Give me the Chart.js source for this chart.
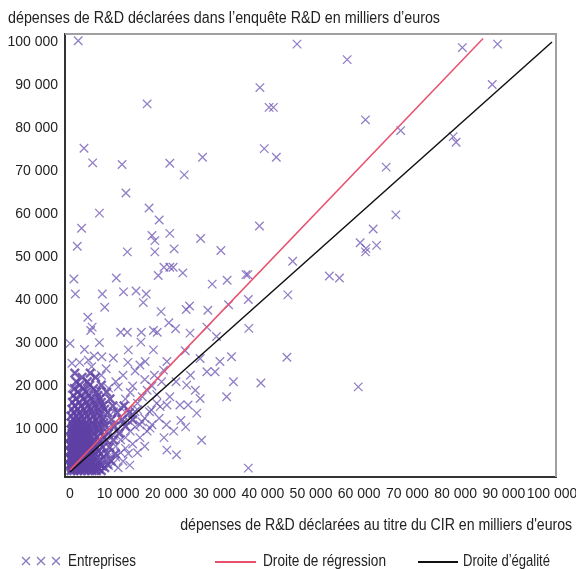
<!DOCTYPE html>
<html><head><meta charset="utf-8">
<script src="https://cdn.jsdelivr.net/npm/chart.js@4"></script>
<style>
body{margin:0;background:#fff}
#wrap{position:relative;width:576px;height:569px;font-family:'Liberation Sans',Arial,sans-serif;color:#222;font-size:16px}
#c{position:absolute;left:0;top:0}
.t{position:absolute;white-space:nowrap;line-height:16px}
.ln{position:absolute;height:1.5px}
</style></head><body>
<div id="wrap">
<canvas id="c" width="576" height="569"></canvas>
<div class="t fit" data-w="432" style="left:8px;top:10px;transform-origin:left center">dépenses de R&amp;D déclarées dans l’enquête R&amp;D en milliers d’euros</div>
<div class="t fit" data-w="392" style="right:4px;top:517px;transform-origin:right center">dépenses de R&amp;D déclarées au titre du CIR en milliers d'euros</div>
<svg style="position:absolute;left:20px;top:555px" width="44" height="12">
<g stroke="rgba(108,84,178,0.8)" stroke-width="1.3">
<path d="M2 2 L10 10 M10 2 L2 10"/><path d="M17 2 L25 10 M25 2 L17 10"/><path d="M32 2 L40 10 M40 2 L32 10"/>
</g></svg>
<div class="t fit" data-w="68" style="left:68px;top:553px;transform-origin:left center">Entreprises</div>
<div class="ln" style="left:215px;top:561px;width:41px;background:#e9506e"></div>
<div class="t fit" data-w="123" style="left:263px;top:553px;transform-origin:left center">Droite de régression</div>
<div class="ln" style="left:418px;top:561px;width:40px;background:#111"></div>
<div class="t fit" data-w="87" style="left:463px;top:553px;transform-origin:left center">Droite d’égalité</div>
</div>
<script>
// Values in milliers d'euros: [CIR declared, R&D survey declared]
const outliers = [
[1700,100300],[47100,99500],[81400,98700],[88700,99500],[57500,95900],[39400,89400],[41300,84800],[42200,84800],
[87600,90100],[16000,85600],[61300,81900],[68600,79400],[79500,78000],[80100,76700],[40300,75200],[42800,73200],
[2900,75300],[4700,71900],[10800,71500],[20700,71800],[23700,69100],[27500,73200],[65600,70900],[11600,64900],
[6100,60200],[16400,61400],[18500,58600],[67600,59800],[39300,57200],[2400,56700],[1500,52500],[17000,55000],
[17600,53800],[20700,55500],[27100,54300],[11900,51200],[17600,51200],[21600,51900],[31300,51500],[62900,56500],
[60200,53300],[61400,52000],[61300,51200],[63600,52700],[800,44900],[9600,45100],[19500,47600],[20700,47600],
[21400,47600],[18300,45700],[23400,46300],[46200,49000],[36500,45900],[36900,45900],[1100,41400],[6700,41400],
[11100,41900],[13700,42100],[15800,41400],[15200,39400],[7200,38300],[29500,43700],[32600,44600],[45200,41200],
[37000,40100],[53800,45600],[55900,45100],[3700,36000],[18900,37300],[24100,37800],[24800,38600],[28600,37600],
[32900,38900],[4600,33700],[4300,32900],[20500,34700],[21900,33300],[28400,33700],[37100,33400],[10500,32500],
[11900,32500],[14800,32500],[17300,32900],[18100,32500],[30400,31500],[24900,32300]
];
const midPoints = [
[45000,26700],[59800,19800],[39600,20700],[37000,900],[33900,21000],[32500,17500],[27000,26400],[31100,25700],
[33500,26800],[28400,23300],[30100,23300],[24200,20200],[27000,17100],[24500,15600],[26300,13700],[27300,7400],
[22100,4000],[20100,5100],[23900,28200],[17300,28400],[12100,28400],[14700,30200],[6100,30100],[0,29900],
[400,25300],[3800,26000],[6600,26800],[14500,24900],[15600,25700],[20100,25700],[19400,23700],[400,19500],
[20700,17500],[18000,16000],[18700,15200],[20100,15600],[22800,15600],[16900,14400],[16600,10200],[14900,11700],
[13500,14000],[12100,14400],[12400,1600],[12100,4300],[8300,2800],[9000,2000]
];
const diagonalCloud = [
[8000,4500],[9500,6000],[10500,7500],[11500,8000],[12500,9500],[13500,10500],[14500,11000],[15500,12500],
[9000,8500],[10000,10000],[11000,11500],[12000,12000],[13000,13500],[14000,14500],[8500,11000],[7000,13000],
[9000,14000],[10500,15000],[11500,17000],[12500,18500],[8000,19500],[9500,21000],[6500,22500],[7500,24000],
[10000,19800],[13000,20000],[14000,16000],[15000,17500],[16000,19000],[17000,20000],[18000,18000],[19000,21000],
[17500,22500],[6000,3000],[7000,2000],[8000,1500],[9500,3500],[10500,4500],[11500,5500],[13000,6500],
[14500,8000],[16000,9500],[17000,11000],[11000,2500],[10000,1000],[14000,4500],[15500,6000],[5000,27000],
[3000,28500],[2000,25500],[4500,24500],[6000,19000],[11000,22500],[13500,23500],[15500,21500],[12000,25500],
[9000,26500],[16500,14000],[18500,12500],[20000,11000],[21500,9500],[19500,8000],[23000,12000],[24000,10500],
[22000,21000],[25000,22500],[26000,19000]
];
// dense core: rows of [R&D survey value, CIR values on that row]
const denseRows = [
[300,[200,800,1500,2200,3000,3800,4600,5500,6500]],
[700,[500,1200,1900,2700,3400,4200,5100,6000]],
[1000,[300,900,1600,2400,3100,3900,4800,5800,7200]],
[1400,[100,600,1300,2000,2700,3500,4300,5300,6600]],
[1800,[100,700,1300,2000,2800,3600,4400,5200,6300,7800]],
[2200,[400,1000,1700,2400,3200,4000,4800,5700]],
[2600,[400,1100,1800,2500,3300,4100,5000,6000,8500]],
[3000,[100,700,1400,2100,2900,3700,4500,5300]],
[3400,[200,900,1600,2300,3000,3800,4700,5600,7000]],
[3800,[500,1200,1900,2700,3400,4200,5000]],
[4200,[500,1200,1900,2700,3500,4300,5200,6400,7600,9400]],
[4600,[200,900,1600,2300,3100,3900,4700]],
[5000,[100,800,1500,2200,3000,3900,4800,5900]],
[5400,[500,1200,1900,2700,3500,4400]],
[5800,[400,1100,1900,2600,3400,4300,5400,6800,8200]],
[6200,[100,800,1500,2200,3000,3800]],
[6600,[200,900,1600,2400,3200,4100,5100,6200]],
[7000,[600,1300,2000,2800,3600]],
[7400,[500,1300,2100,2900,3800,4800,6000,7500,9000]],
[7800,[200,1000,1800,2600,3400]],
[8200,[100,800,1600,2500,3400,4500,5600,7000]],
[8600,[500,1300,2200,3100]],
[9000,[400,1200,2000,2900,3900,5000,6400,8000,10200]],
[9400,[800,1600,2500,3400]],
[9800,[200,1000,1900,2800,3800,4900,6100]],
[10200,[500,1400,2300,3200]],
[10600,[600,1500,2500,3500,4600,5800,7300,9200,11500]],
[11000,[900,1900,2900]],
[11400,[300,1200,2200,3300,4500,5700,7000]],
[12200,[700,1700,2800,4000,5300,6800,8600,10800,13000]],
[13000,[200,1300,2400,3600,4900,6300]],
[13800,[800,2000,3200,4500,6000,7800,9800,12300]],
[14600,[400,1600,2900,4300,5800,7200]],
[15400,[1000,2300,3700,5200,6800,8900,11200]],
[16200,[500,1900,3400,5000,6500]],
[17000,[1200,2800,4400,6200,8300]],
[17800,[700,2300,4000,5800]],
[18600,[1600,3400,5500,7600]],
[19400,[900,2800,4900]],
[20200,[2000,4100,6500]],
[21000,[1300,3600]],
[22000,[2500,5300]],
[23000,[1000,4200]]
];
const regressionLine = [[0,500],[85700,100800]];
const equalityLine = [[0,0],[100000,100000]];
const xTicks = [0,10000,20000,30000,40000,50000,60000,70000,80000,90000,100000];
const yTicks = [10000,20000,30000,40000,50000,60000,70000,80000,90000,100000];

const toXY = ([x,y]) => ({x, y});
const densePoints = denseRows.flatMap(([y, xs]) => xs.map(x => [x, y])).map(toXY);
const scattered = [...outliers, ...midPoints, ...diagonalCloud].map(toXY);
const fmt = v => String(v).replace(/\B(?=(\d{3})+(?!\d))/g, ' ');
const FONT = {family:"'Liberation Sans', Arial, sans-serif", size:14};

document.querySelectorAll('.fit').forEach(el => {
  const w = el.getBoundingClientRect().width;
  el.style.transform = 'scaleX(' + (+el.dataset.w / w) + ')';
});

new Chart(document.getElementById('c'), {
  type: 'scatter',
  data: { datasets: [
    {label:'Droite de régression', type:'line', data: regressionLine.map(toXY), borderColor:'#e9506e', borderWidth:1.5, pointRadius:0, order:0},
    {label:'Droite d’égalité', type:'line', data: equalityLine.map(toXY), borderColor:'#111', borderWidth:1.5, pointRadius:0, order:1},
    {label:'Entreprises', data: scattered, pointStyle:'crossRot', pointRadius:6, borderWidth:1.3,
     borderColor:'rgba(108,84,178,0.75)', backgroundColor:'rgba(108,84,178,0.75)', order:2},
    {label:'Entreprises', data: densePoints, pointStyle:'crossRot', pointRadius:6, borderWidth:2.4,
     borderColor:'rgba(95,65,165,0.85)', backgroundColor:'rgba(95,65,165,0.85)', order:3}
  ]},
  options: {
    responsive:false, animation:false, devicePixelRatio:1,
    layout:{padding:{top:34, right:20, left:0, bottom:0}},
    plugins:{legend:{display:false}, tooltip:{enabled:false}, title:{display:false}},
    scales:{
      x:{type:'linear', min:-1040, max:100830, grid:{display:false, drawTicks:false},
         border:{display:true, color:'#333', width:2},
         ticks:{font:FONT, color:'#222', padding:9, maxRotation:0, autoSkip:false, callback:fmt},
         afterBuildTicks:s=>{ s.ticks = xTicks.map(v=>({value:v})); },
         afterFit:s=>{ s.height = 92; s.paddingLeft = 0; s.paddingRight = 0; }},
      y:{type:'linear', min:-1160, max:101860, grid:{display:false, drawTicks:false},
         border:{display:true, color:'#333', width:2},
         ticks:{font:FONT, color:'#222', padding:7, autoSkip:false, callback:fmt},
         afterBuildTicks:s=>{ s.ticks = yTicks.map(v=>({value:v})); },
         afterFit:s=>{ s.width = 65; s.paddingTop = 0; s.paddingBottom = 0; }}
    }
  },
  plugins:[{id:'frame', beforeDatasetsDraw(chart){
    const {ctx, chartArea:a} = chart;
    ctx.save(); ctx.strokeStyle='#a0a0a0'; ctx.lineWidth=2;
    ctx.beginPath(); ctx.moveTo(a.left, a.top); ctx.lineTo(a.right, a.top); ctx.lineTo(a.right, a.bottom); ctx.stroke();
    ctx.restore();
  }}]
});
</script>
</body></html>
